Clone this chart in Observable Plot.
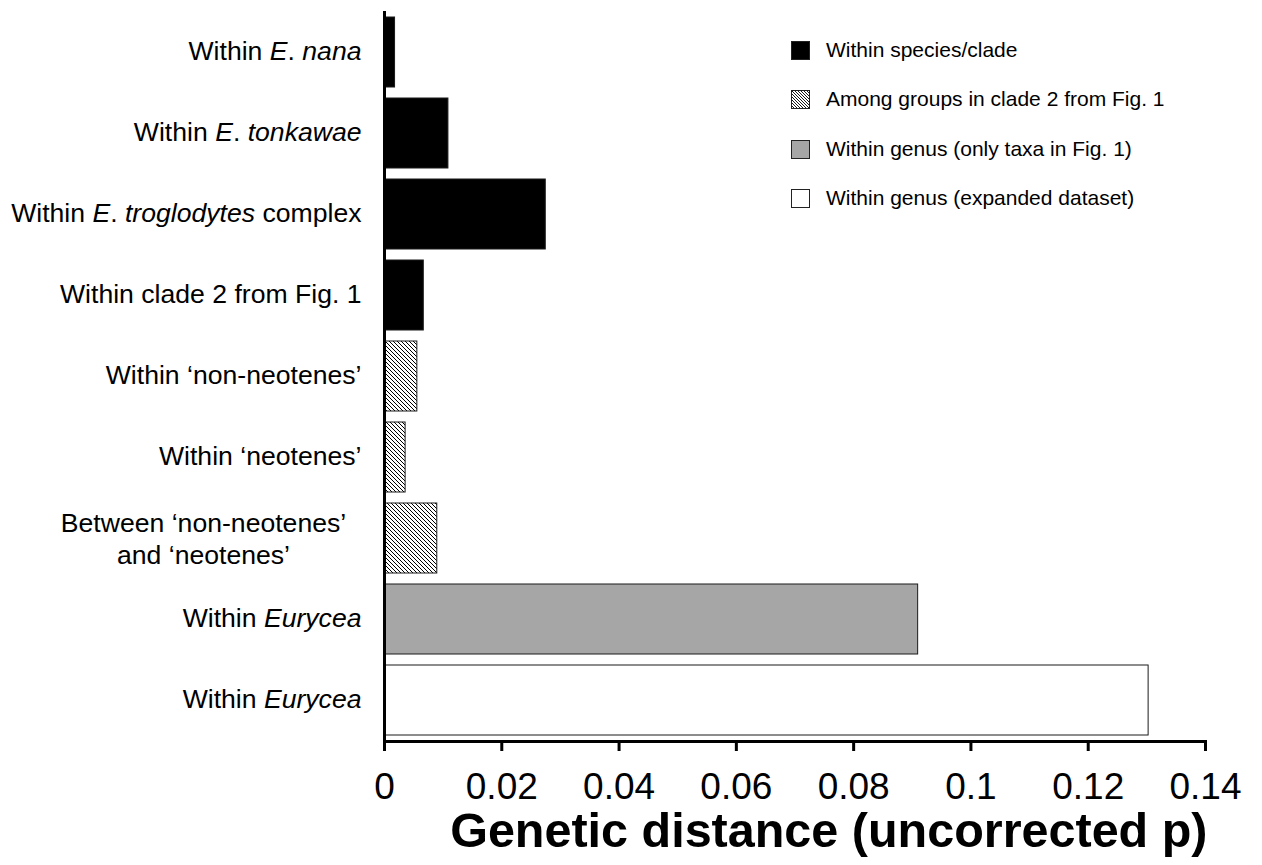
<!DOCTYPE html>
<html><head><meta charset="utf-8">
<script src="https://cdn.jsdelivr.net/npm/d3@7"></script>
<script src="https://cdn.jsdelivr.net/npm/@observablehq/plot@0.6"></script>
<style>
html,body{margin:0;padding:0;background:#fff;}
#wrap{position:relative;width:1262px;height:865px;font-family:"Liberation Sans",Arial,sans-serif;}
#legend{position:absolute;left:791px;top:0;}
.item{position:absolute;left:0;height:20px;display:flex;align-items:center;white-space:nowrap;font-size:21px;color:#000;}
.item svg{margin-right:16px;flex:none;}
</style></head><body><div id="wrap"><div id="legend"></div></div>
<script>
// ---- data ----
const categories = [
  "Within *E*. *nana*",
  "Within *E*. *tonkawae*",
  "Within *E*. *troglodytes* complex",
  "Within clade 2 from Fig. 1",
  "Within ‘non-neotenes’",
  "Within ‘neotenes’",
  "Between ‘non-neotenes’\nand ‘neotenes’",
  "Within *Eurycea*",
  "Within *Eurycea*"
];
const values = [0.0018, 0.0109, 0.0275, 0.0067, 0.0056, 0.0036, 0.0090, 0.0910, 0.1303];
const groups = ["species", "species", "species", "species", "among", "among", "among", "genus", "expanded"];
const groupKeys = ["species", "among", "genus", "expanded"];
const legendLabels = [
  "Within species/clade",
  "Among groups in clade 2 from Fig. 1",
  "Within genus (only taxa in Fig. 1)",
  "Within genus (expanded dataset)"
];
const groupFills = ["#000000", "url(#hatch)", "#a6a6a6", "#ffffff"];
const tickValues = [0, 0.02, 0.04, 0.06, 0.08, 0.1, 0.12, 0.14];
const xTitle = "Genetic distance (uncorrected p)";

const rows = categories.map((label, i) => ({id: i, label, value: values[i], group: groups[i]}));
const single = rows.filter(d => !d.label.includes("\n"));
const multi = rows.filter(d => d.label.includes("\n"));

const chart = Plot.plot({
  width: 1262,
  height: 865,
  marginLeft: 384,
  marginRight: 57,
  marginTop: 11,
  marginBottom: 124,
  style: {fontFamily: '"Liberation Sans", Arial, sans-serif', color: "#000", background: "transparent", overflow: "visible"},
  x: {domain: [0, 0.14], axis: null, label: null},
  y: {domain: rows.map(d => d.id), paddingInner: 0.13, paddingOuter: 0.02, axis: null},
  color: {domain: groupKeys, range: groupFills},
  marks: [
    Plot.barX(rows, {x: "value", y: "id", fill: "group", stroke: "#1a1a1a", strokeWidth: 1}),
    Plot.ruleX([0], {stroke: "#000", strokeWidth: 3}),
    Plot.frame({anchor: "bottom", stroke: "#000", strokeWidth: 3}),
    Plot.axisX({ticks: tickValues, tickFormat: d3.format("~g"), tickSize: 10, tickPadding: 21, fontSize: 37, strokeWidth: 3, label: null}),
    Plot.text(single, {y: "id", text: "label", frameAnchor: "left", textAnchor: "end", dx: -23, dy: -1, fontSize: 26.6, className: "ylab"}),
    Plot.text(multi, {y: "id", text: "label", frameAnchor: "left", textAnchor: "middle", dx: -181, dy: -1, fontSize: 26.6, lineHeight: 1.2, className: "ylab"}),
    Plot.text([xTitle], {frameAnchor: "bottom-right", textAnchor: "end", lineAnchor: "middle", dy: 90, dx: 2, fontSize: 48.5, fontWeight: "bold"})
  ]
});

const svgNS = "http://www.w3.org/2000/svg";
d3.select(chart).insert("defs", ":first-child").html(
  '<pattern id="hatch" patternUnits="userSpaceOnUse" width="4" height="4">' +
  '<rect width="4" height="4" fill="#fff"/>' +
  '<path d="M-1,-1 L5,5 M-1,3 L1,5 M3,-1 L5,1" stroke="#000" stroke-width="1"/></pattern>'
);

// italics: *...* segments
function italicize(el) {
  const s = el.textContent;
  if (!s.includes("*")) return;
  el.textContent = "";
  s.split("*").forEach((part, i) => {
    if (!part) return;
    const t = document.createElementNS(svgNS, "tspan");
    if (i % 2) t.setAttribute("font-style", "italic");
    t.textContent = part;
    el.appendChild(t);
  });
}
chart.querySelectorAll(".ylab text").forEach(t => {
  const spans = t.querySelectorAll(":scope > tspan");
  if (spans.length) spans.forEach(italicize); else italicize(t);
});

const wrap = document.getElementById("wrap");
wrap.insertBefore(chart, wrap.firstChild);

// legend
const legendCenters = [50, 99, 149, 198];
const legend = document.getElementById("legend");
groupKeys.forEach((g, i) => {
  const item = document.createElement("div");
  item.className = "item";
  item.style.top = (legendCenters[i] - 10) + "px";
  const fill = g === "among" ? "url(#hatchL)" : groupFills[i];
  const defs = g === "among" ? '<defs><pattern id="hatchL" patternUnits="userSpaceOnUse" width="3" height="3"><rect width="3" height="3" fill="#fff"/><path d="M-1,-1 L4,4 M-1,2 L1,4 M2,-1 L4,1" stroke="#000" stroke-width="0.9"/></pattern></defs>' : "";
  item.innerHTML = `<svg width="19" height="19">${defs}<rect x="0.5" y="0.5" width="18" height="18" fill="${fill}" stroke="#222" stroke-width="1"/></svg><span>${legendLabels[i]}</span>`;
  legend.appendChild(item);
});
</script>
</body></html>
